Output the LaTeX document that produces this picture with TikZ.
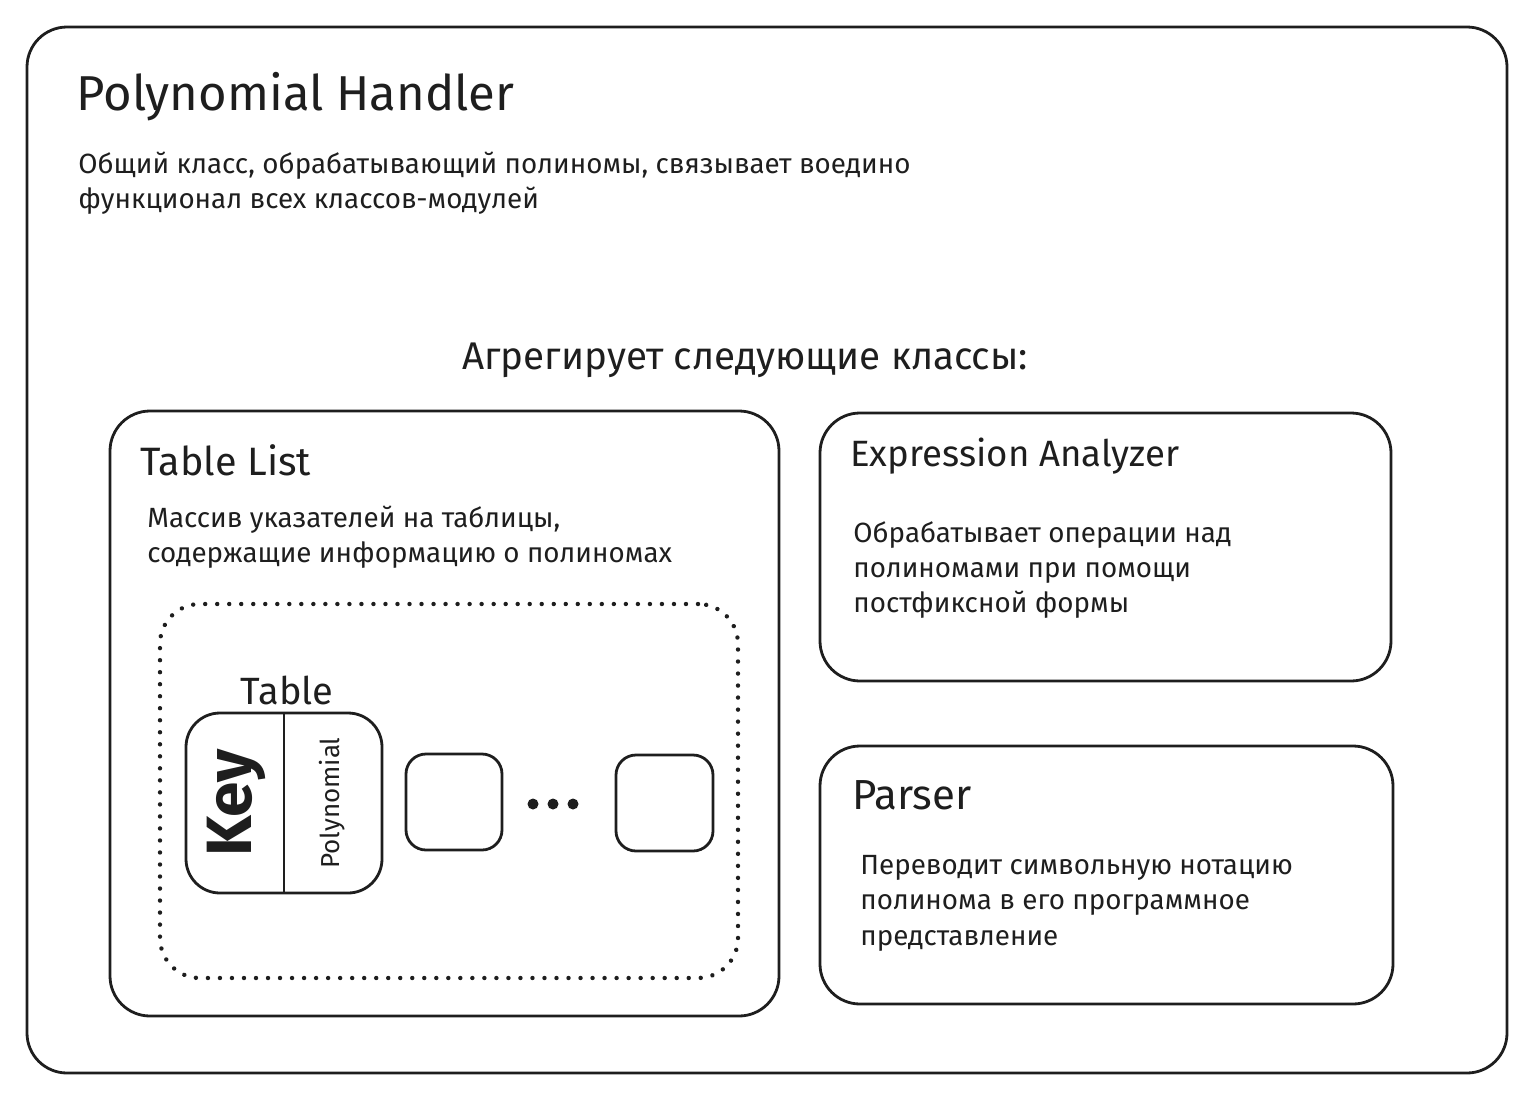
\documentclass[tikz,border=0pt]{standalone}
\usepackage{fontspec}
\setmainfont{Fira Sans}
\definecolor{ink}{HTML}{1E1E1E}
\begin{document}
\begin{tikzpicture}[x=0.5pt,y=-0.5pt,
  box/.style={draw=ink,line width=1.4pt,inner sep=0pt,outer sep=0pt,rounded corners=#1},
  box/.default=20pt,
  dottedbox/.style={draw=ink,line width=2.2pt,line cap=round,dash pattern=on 0.01pt off 6pt,rounded corners=20pt,inner sep=0pt,outer sep=0pt},
  txt/.style={text=ink,anchor=west,align=left,inner sep=0pt,font=\fontsize{13.9}{17.7}\selectfont},
  head/.style={text=ink,anchor=west,inner sep=0pt,font=\fontsize{#1}{#1}\selectfont},
  dot/.style={circle,fill=ink,inner sep=0pt,minimum size=5.5pt}
]
\useasboundingbox (0,0) rectangle (1537,1098);
% outer frame
\node[box, minimum width=740pt, minimum height=523pt] (outer) at (767,550) {};
\node[head=24.5] (title) at (76,97) {Polynomial Handler};
\node[txt] (desc) at (78,183) {Общий класс, обрабатывающий полиномы, связывает воедино\\функционал всех классов-модулей};
\node[text=ink,inner sep=0pt,font=\fontsize{19.3}{19.3}\selectfont] (agg) at (745,360) {Агрегирует следующие классы:};

% Table List
\node[box, minimum width=334.5pt, minimum height=302.5pt] (tl) at (444.5,713.5) {};
\node[head=19.8] (tltitle) at (140,460) {Table List};
\node[txt] (tldesc) at (147,537) {Массив указателей на таблицы,\\содержащие информацию о полиномах};
\node[dottedbox, minimum width=289pt, minimum height=187pt] (dots) at (449,791) {};
\node[text=ink,inner sep=0pt,font=\fontsize{19}{19}\selectfont] (tabletitle) at (287,690) {Table};
\node[box=17pt, minimum width=98pt, minimum height=90pt] (table) at (284,803) {};
\draw[ink,line width=1.4pt] (table.north) -- (table.south);
\node[text=ink,inner sep=0pt,rotate=90,font=\fontsize{32}{32}\selectfont\bfseries] (key) at (236,803) {Key};
\node[text=ink,inner sep=0pt,rotate=90,font=\fontsize{13}{13}\selectfont] (poly) at (332,803) {Polynomial};
\node[box=10pt, minimum width=48pt, minimum height=48pt] (s1) at (454,802) {};
\node[dot] (d1) at (533,804) {};
\node[dot] (d2) at (553,804) {};
\node[dot] (d3) at (573,804) {};
\node[box=10pt, minimum width=48.5pt, minimum height=48pt] (s2) at (664.5,803) {};

% Expression Analyzer
\node[box, minimum width=285.5pt, minimum height=134pt] (ea) at (1105.5,547) {};
\node[head=18.3] (eatitle) at (850,456) {Expression Analyzer};
\node[txt] (eadesc) at (853,570) {Обрабатывает операции над\\полиномами при помощи\\постфиксной формы};

% Parser
\node[box, minimum width=286.5pt, minimum height=129pt] (parser) at (1106.5,875) {};
\node[head=21] (ptitle) at (852,795) {Parser};
\node[txt] (pdesc) at (860,903) {Переводит символьную нотацию\\полинома в его программное\\представление};
\end{tikzpicture}
\end{document}
